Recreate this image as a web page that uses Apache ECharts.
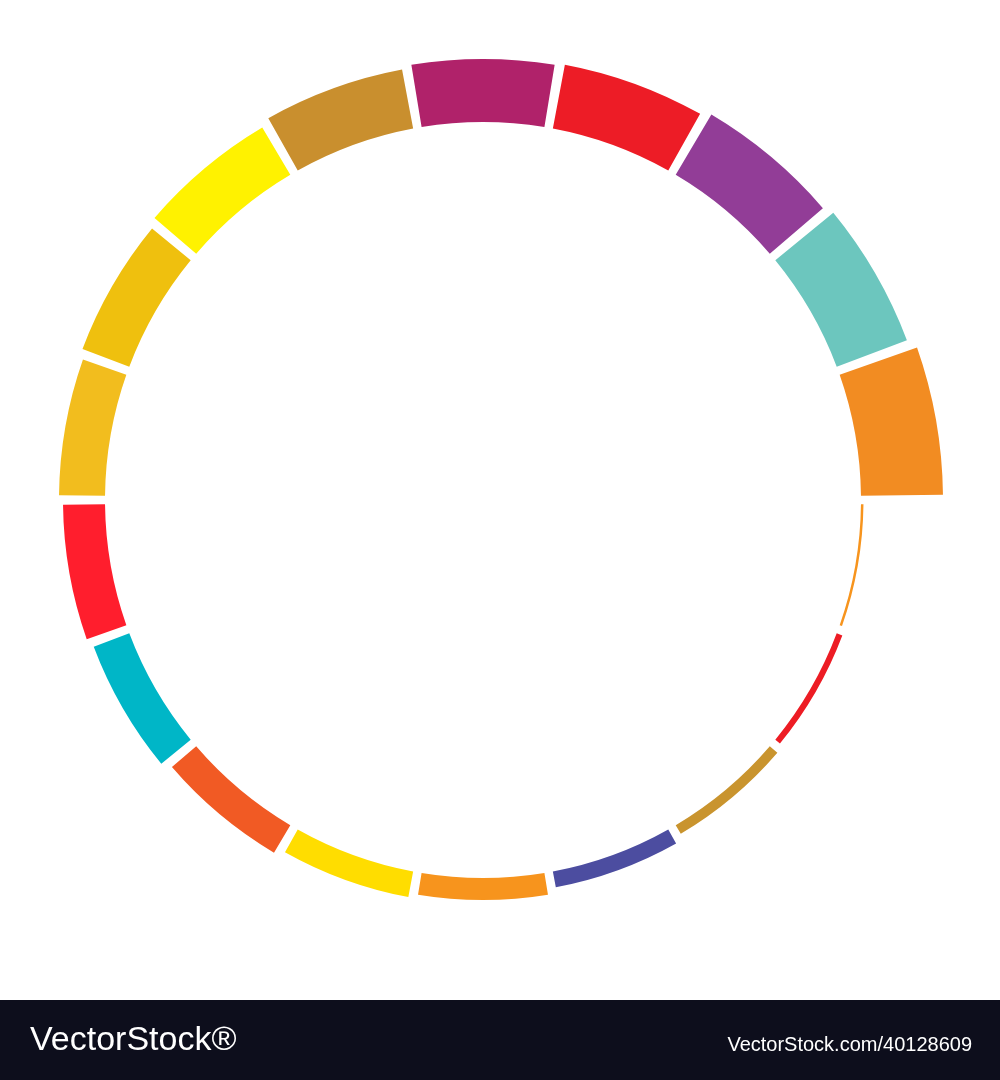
<!DOCTYPE html>
<html style="height: 100%">
<head>
	<meta charset="utf-8">
	<script src="https://cdn.jsdelivr.net/npm/echarts@6/dist/echarts.min.js"></script>
</head>
<body style="height: 100%; margin: 0; background:#fff">
	<div id="container" style="width:1000px; height:1080px"></div>
	<script>
	// segments counterclockwise from 3 o'clock
	var names = ['s1','s2','s3','s4','s5','s6','s7','s8','s9','s10','s11','s12','s13','s14','s15','s16','s17','s18'];
	var thickness = [82, 75, 70, 65, 63, 60, 55, 50, 46, 42, 38, 32, 26, 22, 16, 10, 6, 2.5];
	var colors = ['#F28C22','#6CC6BE','#923D97','#ED1C26','#B0226A','#C98F2E','#FFF200','#EFC00E',
		'#F2BD1E','#FF1E2D','#00B6C7','#F15A24','#FFDD00','#F7941D','#4C4DA0','#C9942E','#ED1C24','#F7941D'];

	var myChart = echarts.init(document.getElementById('container'));
	var option = {
		animation: false,
		series: [{
			type: 'pie',
			roseType: 'area',
			center: [483, 500],
			radius: [378, 460],
			startAngle: 0,
			clockwise: false,
			padAngle: 1.3,
			label: {show: false},
			labelLine: {show: false},
			data: names.map(function (n, i) {
				return {name: n, value: thickness[i], itemStyle: {color: colors[i]}};
			})
		}],
		graphic: [
			{type: 'rect', left: 0, top: 1000, shape: {width: 1000, height: 80}, style: {fill: '#0d0e1c'}},
			{type: 'text', left: 30, top: 1024, style: {text: 'VectorStock®', fill: '#fff', font: '34px "Liberation Sans"'}},
			{type: 'text', right: 28, top: 1035, style: {text: 'VectorStock.com/40128609', fill: '#fff', font: '20px "Liberation Sans"'}}
		]
	};
	myChart.setOption(option, true);
	</script>
</body>
</html>
